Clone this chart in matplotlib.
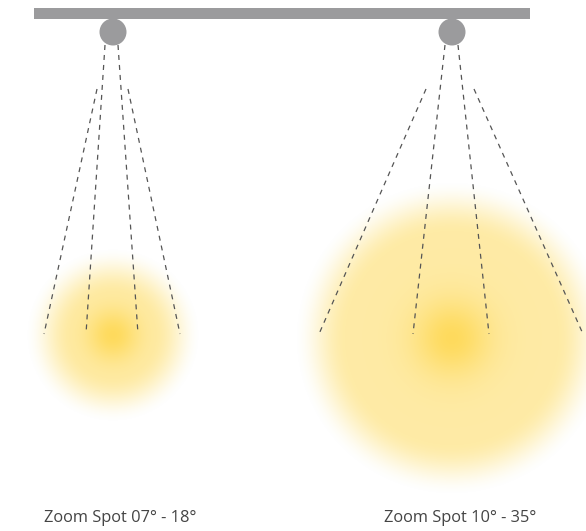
import numpy as np
import matplotlib
matplotlib.use("Agg")
import matplotlib.pyplot as plt

W, H = 586, 531

# Spot data
labels = ["Zoom Spot 07° - 18°", "Zoom Spot 10° - 35°"]
spot_x = [113, 452]              # lamp centre x
lamp_y = 32
lamp_r = 13.5
inner_top = [(105, 118), (445, 458)]   # inner beam start x at y=45
inner_bot = [(86, 138), (413, 489)]    # inner beam end x
outer_top = [(97, 128), (426, 474)]    # outer beam start x at y=89
outer_bot = [(44, 180), (319, 583)]    # outer beam end x
beam_end_y = 334
glow_center = [(113, 335), (452, 338)]
glow_plateau = [(42, 88), (105, 158)]  # fade start / end radius
glow_core = [26, 38]
label_x = [44, 384]
label_y = 518

fig = plt.figure(figsize=(W / 100, H / 100), dpi=100)
ax = fig.add_axes([0, 0, 1, 1])
ax.set_xlim(0, W)
ax.set_ylim(H, 0)
ax.axis("off")

# Glow image
yy, xx = np.mgrid[0:H, 0:W] + 0.5
alpha = np.zeros((H, W))
for (cx, cy), (r0, r1), rc in zip(glow_center, glow_plateau, glow_core):
    r = np.hypot(xx - cx, yy - cy)
    t = np.clip((r - r0) / (r1 - r0), 0, 1)
    s = 1 - (3 * t**2 - 2 * t**3)
    a = 0.52 * s + 0.42 * np.exp(-(r / rc) ** 2)
    alpha = np.maximum(alpha, a)
alpha = np.clip(alpha, 0, 1)
img = np.zeros((H, W, 4))
img[..., 0] = 254 / 255
img[..., 1] = 216 / 255
img[..., 2] = 82 / 255
img[..., 3] = alpha
ax.imshow(img, extent=(0, W, H, 0), interpolation="bilinear", zorder=1)

# Ceiling bar
ax.add_patch(plt.Rectangle((34, 8), 496, 10.5, color="#9b9b9d", lw=0, zorder=3))

dash = dict(color="#555555", lw=0.9, dashes=(4, 4), zorder=4)
for i in range(2):
    ax.add_patch(plt.Circle((spot_x[i], lamp_y), lamp_r, color="#9b9b9d", lw=0, zorder=3))
    for j in range(2):
        ax.plot([inner_top[i][j], inner_bot[i][j]], [45, beam_end_y], **dash)
        ax.plot([outer_top[i][j], outer_bot[i][j]], [89, beam_end_y], **dash)
    ax.text(label_x[i], label_y, labels[i], fontsize=11.8, color="#444444",
            family="Open Sans", ha="left", va="center", zorder=5)

fig.savefig("out.png", dpi=100, facecolor="white")
